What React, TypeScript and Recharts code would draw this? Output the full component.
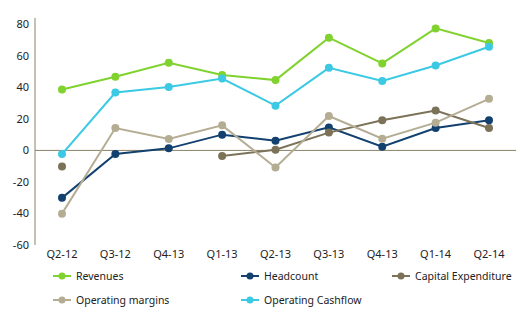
import React from 'react';
import { LineChart, Line, XAxis, YAxis, ReferenceLine, Legend } from 'recharts';

const categories = ['Q2-12', 'Q3-12', 'Q4-13', 'Q1-13', 'Q2-13', 'Q3-13', 'Q4-13', 'Q1-14', 'Q2-14'];
const revenues = [38.6, 46.7, 55.6, 47.9, 44.6, 71.5, 55.2, 77.4, 68.1];
const headcount = [-30.1, -2.3, 1.3, 10, 6.2, 14.6, 2.3, 14.2, 19.1];
const capex: (number | null)[] = [-10.2, null, null, -3.6, 0.4, 11.3, 19.1, 25.3, 14.2];
const opMargins = [-40.1, 14.2, 7.2, 15.9, -10.8, 21.8, 7.4, 17.6, 32.7];
const opCashflow = [-2.3, 36.7, 40.3, 45.6, 28.4, 52.4, 44.1, 53.9, 65.8];
const yTicks = [-60, -40, -20, 0, 20, 40, 60, 80];

const data = categories.map((c, i) => ({
  name: c,
  idx: i,
  revenues: revenues[i],
  headcount: headcount[i],
  capex: capex[i],
  opMargins: opMargins[i],
  opCashflow: opCashflow[i],
}));

const series = [
  { key: 'revenues', label: 'Revenues', color: '#80d22e' },
  { key: 'headcount', label: 'Headcount', color: '#12406f' },
  { key: 'capex', label: 'Capital Expenditure', color: '#7b7258' },
  { key: 'opMargins', label: 'Operating margins', color: '#b5ad93' },
  { key: 'opCashflow', label: 'Operating Cashflow', color: '#3bc9e3' },
];

const FONT = '"Noto Sans", "Open Sans", sans-serif';

const LegendItem = ({ label, color }: { label: string; color: string }) => (
  <div style={{ display: 'flex', alignItems: 'center', height: 24 }}>
    <svg width={18} height={10} style={{ marginRight: 5 }}>
      <line x1={0} y1={5} x2={18} y2={5} stroke={color} strokeWidth={2} />
      <circle cx={9} cy={5} r={3.5} fill={color} />
    </svg>
    <span style={{ fontSize: 10.5, color: '#222', fontFamily: FONT }}>{label}</span>
  </div>
);

const renderLegend = () => (
  <div style={{ position: 'relative', height: 56, width: 520 }}>
    {[
      { s: series[0], x: 53, y: -3 },
      { s: series[1], x: 241, y: -3 },
      { s: series[2], x: 392, y: -3 },
      { s: series[3], x: 53, y: 21 },
      { s: series[4], x: 241, y: 21 },
    ].map(({ s, x, y }) => (
      <div key={s.key} style={{ position: 'absolute', left: x, top: y }}>
        <LegendItem label={s.label} color={s.color} />
      </div>
    ))}
  </div>
);

export default function App() {
  return (
    <div style={{ position: 'absolute', left: 0, top: 0, width: 520, height: 323, background: '#fff' }}>
      <LineChart
        width={520}
        height={323}
        data={data}
        margin={{ top: 18, right: 4, left: 0, bottom: 0 }}
      >
        <XAxis
          dataKey="name"
          axisLine={false}
          tickLine={false}
          interval={0}
          height={22}
          padding={{ left: 27, right: 27 }}
          tick={{ fontSize: 11, fill: '#222', fontFamily: FONT }}
          tickSize={4}
          tickMargin={1}
        />
        <YAxis
          width={35}
          domain={[-60, 84]}
          ticks={yTicks}
          interval={0}
          tickLine={false}
          axisLine={{ stroke: '#8a8266', strokeWidth: 1 }}
          tick={{ fontSize: 11, fill: '#222', fontFamily: FONT }}
          tickSize={4}
          tickMargin={2}
        />
        <ReferenceLine y={0} stroke="#8a8266" strokeWidth={1} />
        <Legend verticalAlign="bottom" align="left" content={renderLegend} wrapperStyle={{ left: 0, height: 56 }} />
        {series.map((s) => (
          <Line
            key={s.key}
            dataKey={s.key}
            name={s.label}
            stroke={s.color}
            strokeWidth={2}
            dot={{ r: 4, fill: s.color, stroke: s.color, strokeWidth: 0 }}
            activeDot={false}
            connectNulls={false}
            isAnimationActive={false}
          />
        ))}
      </LineChart>
    </div>
  );
}
